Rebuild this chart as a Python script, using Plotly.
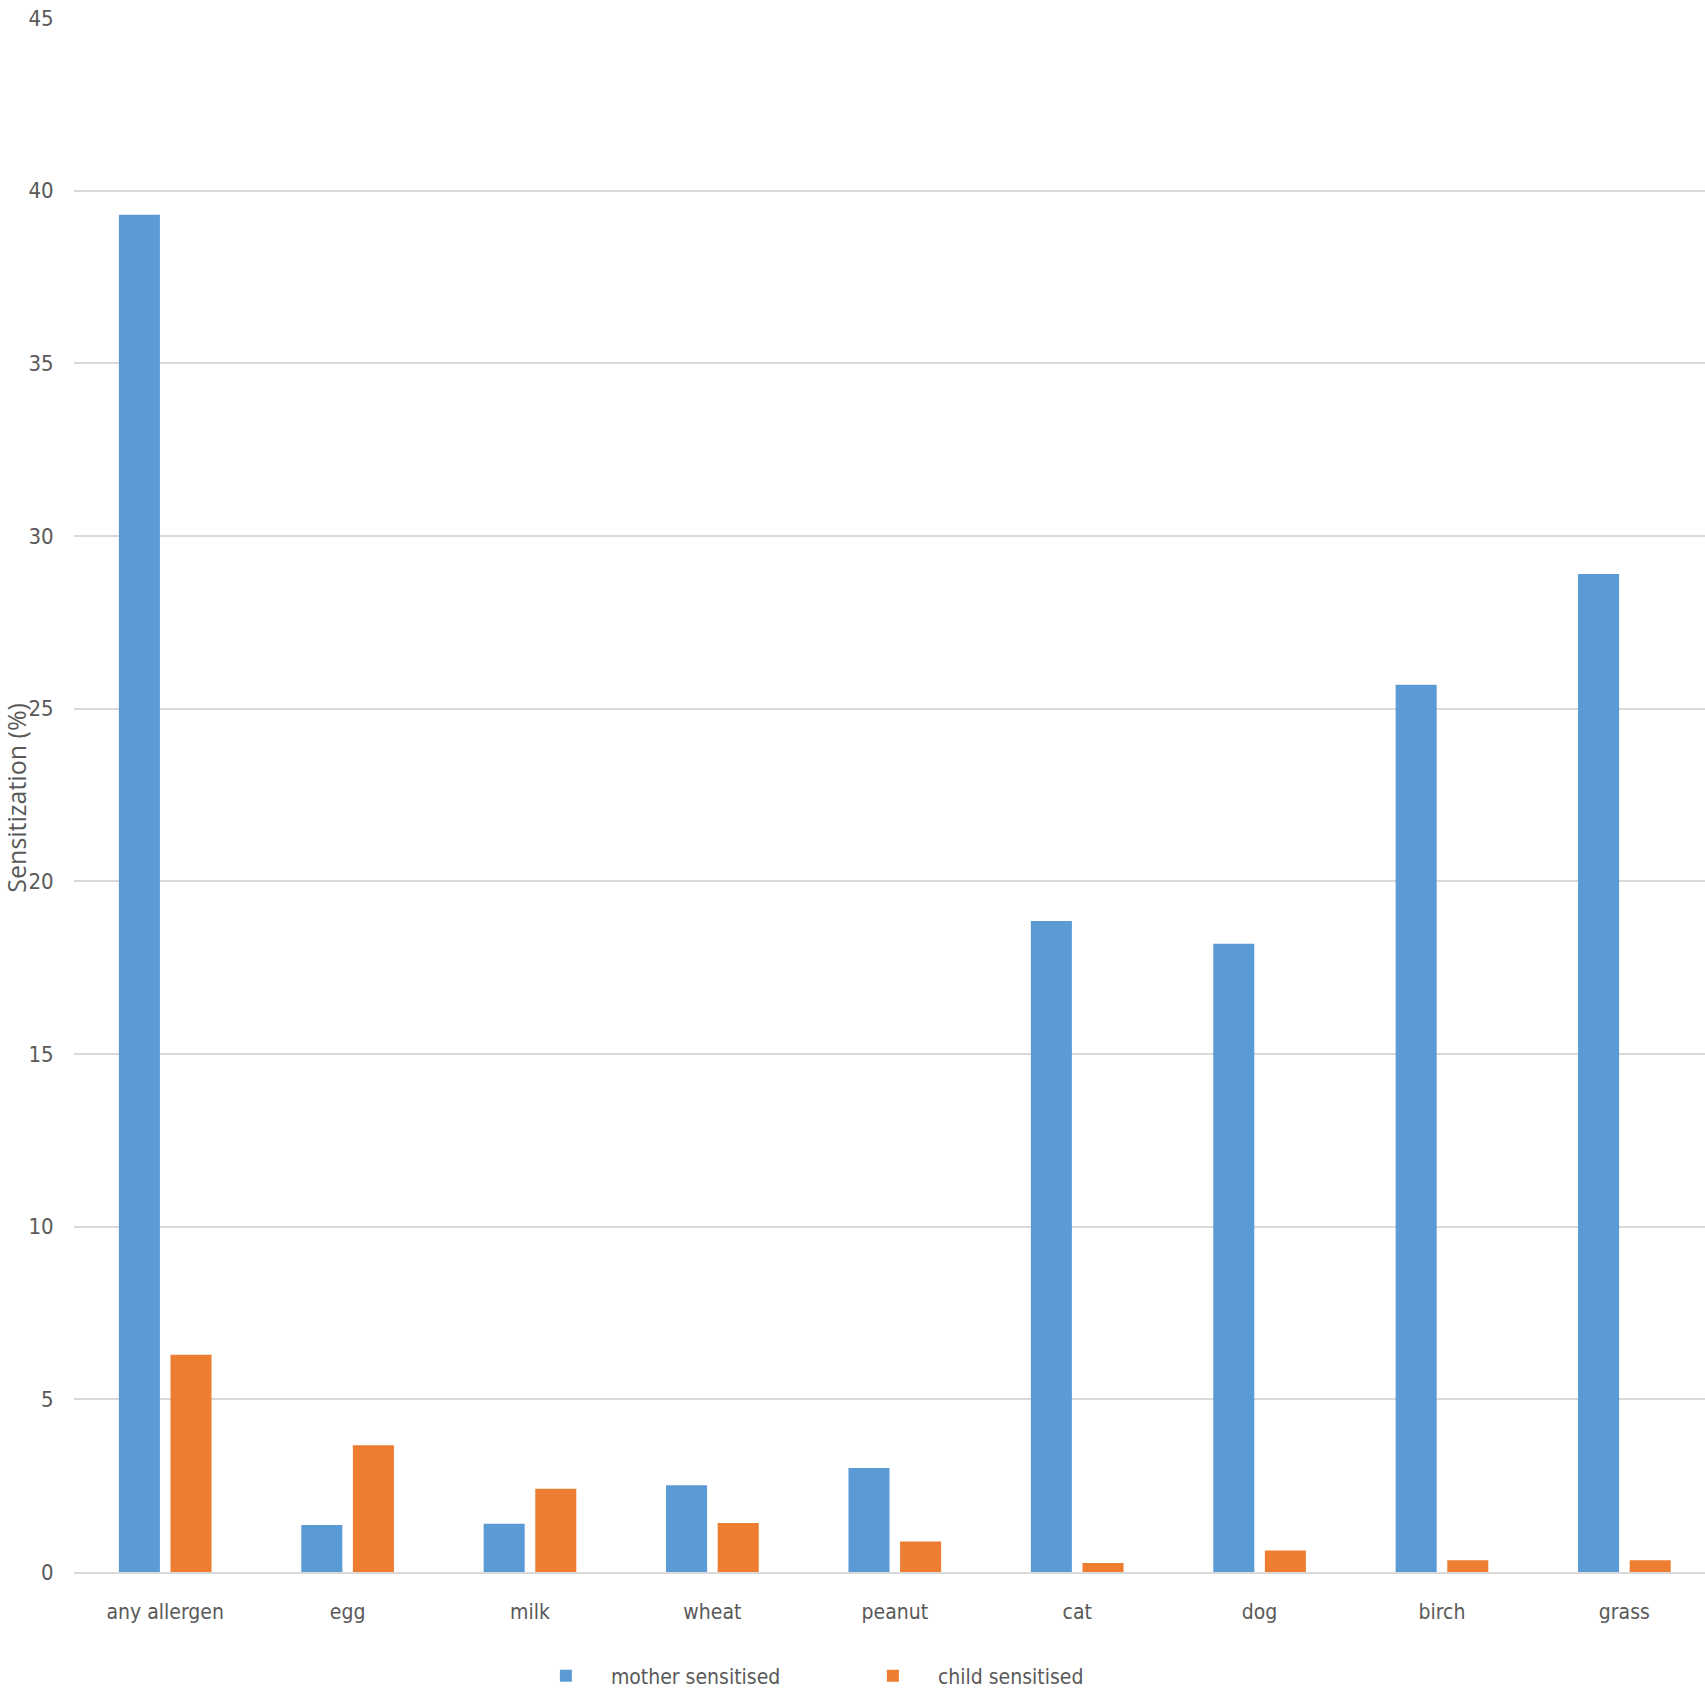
import plotly.graph_objects as go

categories = ["any allergen", "egg", "milk", "wheat", "peanut", "cat", "dog", "birch", "grass"]
mother_sensitised = [39.3, 1.36, 1.40, 2.51, 3.01, 18.85, 18.19, 25.69, 28.9]
child_sensitised = [6.29, 3.67, 2.41, 1.42, 0.88, 0.26, 0.62, 0.34, 0.34]
y_ticks = [0, 5, 10, 15, 20, 25, 30, 35, 40, 45]
y_title = "Sensitization (%)"

BLUE = "#5B9BD5"
ORANGE = "#ED7D31"
GRAY_TEXT = "#595959"
NARROW = "Liberation Sans Narrow, DejaVu Sans Condensed, sans-serif"

fig = go.Figure()
fig.add_trace(go.Bar(
    x=categories, y=mother_sensitised, name="mother sensitised",
    marker=dict(color=BLUE, line=dict(width=0)),
    width=0.225, offset=-0.254,
))
fig.add_trace(go.Bar(
    x=categories, y=child_sensitised, name="child sensitised",
    marker=dict(color=ORANGE, line=dict(width=0)),
    width=0.225, offset=0.029,
))

fig.update_layout(
    width=1705, height=1705,
    margin=dict(l=74, r=0, t=18, b=133, autoexpand=False),
    plot_bgcolor="white", paper_bgcolor="white",
    barmode="overlay",
    showlegend=True,
    legend=dict(
        orientation="h", x=0.274, xanchor="left", y=-0.067, yanchor="middle",
        font=dict(family=NARROW, size=21, color=GRAY_TEXT),
        itemwidth=80, entrywidth=232, entrywidthmode="pixels",
        bgcolor="rgba(0,0,0,0)",
    ),
    xaxis=dict(
        range=[-0.5, 8.442], showgrid=False,
        showline=True, linecolor="#D9D9D9", linewidth=2,
        ticks="outside", ticklen=20, tickcolor="rgba(0,0,0,0)",
        tickfont=dict(family=NARROW, size=21, color=GRAY_TEXT),
        automargin=False,
    ),
    yaxis=dict(
        range=[0, 45], tickvals=y_ticks,
        showgrid=True, gridcolor="#D9D9D9", gridwidth=2,
        zeroline=False, showline=False,
        ticks="outside", ticklen=15, tickcolor="rgba(0,0,0,0)",
        tickfont=dict(family=NARROW, size=22, color=GRAY_TEXT),
        automargin=False,
    ),
    annotations=[dict(
        text=y_title, textangle=-90, showarrow=False,
        xref="paper", yref="paper", x=-0.0352, y=0.498,
        xanchor="center", yanchor="middle", borderpad=0,
        font=dict(family="Open Sans, Noto Sans, sans-serif", size=25, color=GRAY_TEXT),
    )],
)

fig.write_html("out.html", config={"displayModeBar": False},
               post_script="document.body.style.margin='0px';")
